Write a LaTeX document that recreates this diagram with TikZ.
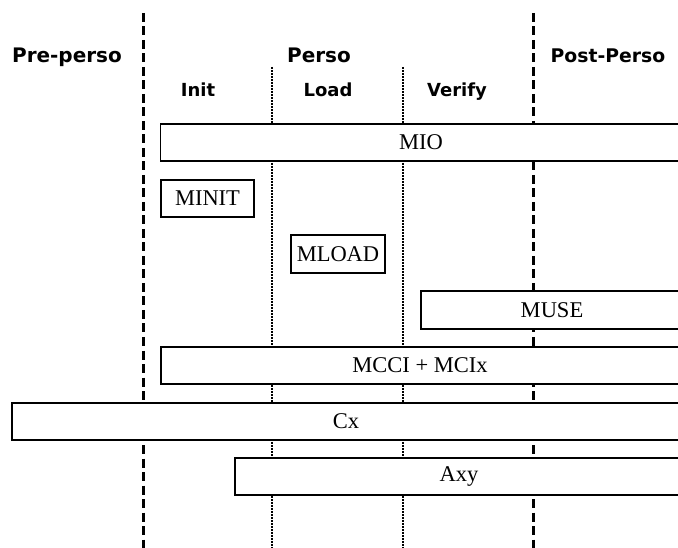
\documentclass[tikz,border=0pt]{standalone}
\usepackage{fontspec}
\setmainfont{Liberation Serif}
\newfontfamily\labfont{DejaVu Sans}
\begin{document}
\begin{tikzpicture}[x=1pt,y=-1pt,
  phase/.style={font=\labfont\bfseries\fontsize{20}{23}\selectfont, inner sep=0pt, anchor=base},
  sub/.style={font=\labfont\bfseries\fontsize{18}{21}\selectfont, inner sep=0pt, anchor=base},
  blk/.style={draw, line width=1.1pt, fill=white, inner sep=0pt, font=\fontsize{22.5}{26}\selectfont},
  major/.style={line width=3pt, dash pattern=on 9pt off 4.5pt},
  minor/.style={line width=2.6pt, dash pattern=on 1.8pt off 1.2pt}]
\useasboundingbox (0,0) rectangle (678,548);
\clip (0,0) rectangle (678,548);
% divider coordinates
\coordinate (d1t) at (143,13);  \coordinate (d1b) at (143,548);
\coordinate (d2t) at (533,13);  \coordinate (d2b) at (533,548);
\coordinate (p1t) at (272,67);  \coordinate (p1b) at (272,548);
\coordinate (p2t) at (403,67);  \coordinate (p2b) at (403,548);
\draw[major] (d1t) -- (d1b);
\draw[major] (d2t) -- (d2b);
\draw[minor] (p1t) -- (p1b);
\draw[minor] (p2t) -- (p2b);
% headings
\node[phase] (pre) at (67,63) {Pre-perso};
\node[phase] (perso) at (319,63) {Perso};
\node[phase, font=\labfont\bfseries\fontsize{18.8}{22}\selectfont] (post) at (608,63) {Post-Perso};
\node[sub] (init) at (198,97) {Init};
\node[sub] (load) at (328,97) {Load};
\node[sub] (verify) at (457,97) {Verify};
% blocks
\node[blk, minimum width=521, minimum height=37] (mio) at (421,142.5) {MIO};
\node[blk, minimum width=93, minimum height=37] (minit) at (207.5,198.5) {MINIT};
\node[blk, minimum width=94, minimum height=38] (mload) at (338,254) {MLOAD};
\node[blk, minimum width=262, minimum height=38] (muse) at (552,310) {MUSE};
\node[blk, minimum width=518, minimum height=37] (mcci) at (420,365.5) {MCCI + MCIx};
\node[blk, minimum width=668, minimum height=37] (cx) at (346,421.5) {Cx};
\node[blk, minimum width=448, minimum height=37] (axy) at (459,476.5) {Axy};
\end{tikzpicture}
\end{document}
